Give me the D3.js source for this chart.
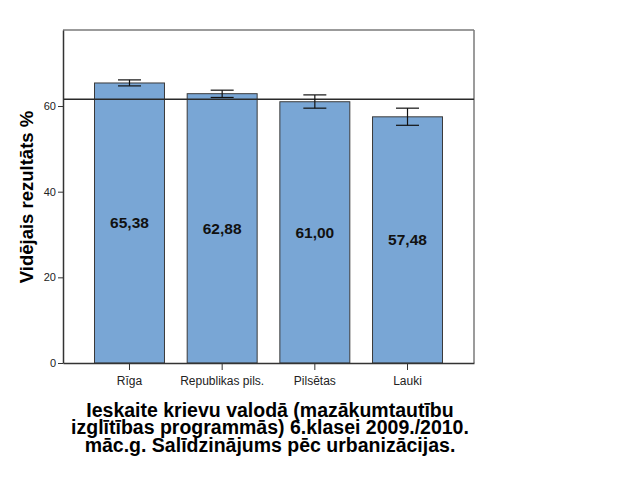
<!DOCTYPE html>
<html>
<head>
<meta charset="utf-8">
<script src="https://cdn.jsdelivr.net/npm/d3@7"></script>
<style>
body { margin: 0; background: #fff; }
text { font-family: "Liberation Sans", Arial, sans-serif; }
</style>
</head>
<body>
<script>
var w = 626, h = 501;
var margin = { top: 30, right: 152, bottom: 138, left: 63 };
var iw = w - margin.left - margin.right;
var ih = h - margin.top - margin.bottom;

var categories = ["Rīga", "Republikas pils.", "Pilsētas", "Lauki"];
var means = [65.38, 62.88, 61.00, 57.48];
var errLow = [64.7, 62.0, 59.5, 55.5];
var errHigh = [66.1, 63.7, 62.6, 59.5];
var labels = ["65,38", "62,88", "61,00", "57,48"];
var yTicks = [0, 20, 40, 60];
var refLine = 61.6;
var titleLines = ["Ieskaite krievu valodā (mazākumtautību",
    "izglītības programmās) 6.klasei 2009./2010.",
    "māc.g. Salīdzinājums pēc urbanizācijas."];

var svg = d3.select("body").append("svg")
    .attr("width", w)
    .attr("height", h);

var g = svg.append("g")
    .attr("transform", "translate(" + margin.left + "," + margin.top + ")");

var xScale = d3.scaleBand()
    .domain(categories)
    .range([0, iw])
    .paddingInner(0.245)
    .paddingOuter(0.34);

var yScale = d3.scaleLinear()
    .domain([0, 77.75])
    .range([ih, 0]);

// frame (top and right in lighter grey)
g.append("line").attr("x1", 0).attr("x2", iw).attr("y1", 0).attr("y2", 0)
    .attr("stroke", "#7a7a7a").attr("stroke-width", 1.5);
g.append("line").attr("x1", iw).attr("x2", iw).attr("y1", 0).attr("y2", ih)
    .attr("stroke", "#7a7a7a").attr("stroke-width", 1.5);

// bars
g.selectAll("rect.bar")
    .data(means)
    .enter()
    .append("rect")
    .attr("class", "bar")
    .attr("x", function (d, i) { return xScale(categories[i]); })
    .attr("y", function (d) { return yScale(d); })
    .attr("width", xScale.bandwidth())
    .attr("height", function (d) { return ih - yScale(d); })
    .attr("fill", "#79a6d5")
    .attr("stroke", "#3a3a3a")
    .attr("stroke-width", 1);

// reference line
g.append("line")
    .attr("x1", 0).attr("x2", iw)
    .attr("y1", yScale(refLine)).attr("y2", yScale(refLine))
    .attr("stroke", "#2a2a2a").attr("stroke-width", 1.5);

// error bars
var capW = 23;
var eb = g.selectAll("g.err")
    .data(means)
    .enter()
    .append("g")
    .attr("class", "err")
    .attr("stroke", "#111")
    .attr("stroke-width", 1.2);
eb.append("line")
    .attr("x1", function (d, i) { return xScale(categories[i]) + xScale.bandwidth() / 2; })
    .attr("x2", function (d, i) { return xScale(categories[i]) + xScale.bandwidth() / 2; })
    .attr("y1", function (d, i) { return yScale(errLow[i]); })
    .attr("y2", function (d, i) { return yScale(errHigh[i]); });
eb.append("line")
    .attr("x1", function (d, i) { return xScale(categories[i]) + xScale.bandwidth() / 2 - capW / 2; })
    .attr("x2", function (d, i) { return xScale(categories[i]) + xScale.bandwidth() / 2 + capW / 2; })
    .attr("y1", function (d, i) { return yScale(errLow[i]); })
    .attr("y2", function (d, i) { return yScale(errLow[i]); });
eb.append("line")
    .attr("x1", function (d, i) { return xScale(categories[i]) + xScale.bandwidth() / 2 - capW / 2; })
    .attr("x2", function (d, i) { return xScale(categories[i]) + xScale.bandwidth() / 2 + capW / 2; })
    .attr("y1", function (d, i) { return yScale(errHigh[i]); })
    .attr("y2", function (d, i) { return yScale(errHigh[i]); });

// value labels in the middle of the bars
g.selectAll("text.val")
    .data(means)
    .enter()
    .append("text")
    .attr("class", "val")
    .attr("x", function (d, i) { return xScale(categories[i]) + xScale.bandwidth() / 2; })
    .attr("y", function (d) { return yScale(d / 2); })
    .attr("dy", "0.35em")
    .attr("text-anchor", "middle")
    .attr("font-size", 15.5)
    .attr("font-weight", "bold")
    .attr("fill", "#111")
    .text(function (d, i) { return labels[i]; });

// axes
var yAxis = d3.axisLeft(yScale).tickValues(yTicks).tickSize(5).tickSizeOuter(0).tickPadding(2);
var ya = g.append("g").call(yAxis);
ya.select(".domain").attr("stroke", "#333").attr("stroke-width", 1.5);
ya.selectAll(".tick line").attr("stroke", "#333");
ya.selectAll("text").attr("font-size", 11).attr("fill", "#222")
    .attr("font-family", "Liberation Sans, Arial, sans-serif");

var xAxis = d3.axisBottom(xScale).tickSize(7).tickSizeOuter(0).tickPadding(6);
var xa = g.append("g").attr("transform", "translate(0," + ih + ")").call(xAxis);
xa.select(".domain").attr("stroke", "#333").attr("stroke-width", 1.5);
xa.selectAll(".tick line").attr("stroke", "#333");
xa.selectAll("text").attr("font-size", 12).attr("fill", "#222")
    .attr("font-family", "Liberation Sans, Arial, sans-serif");

// y axis title
svg.append("text")
    .attr("transform", "translate(33,197) rotate(-90)")
    .attr("text-anchor", "middle")
    .attr("font-size", 18.5)
    .attr("font-weight", "bold")
    .attr("fill", "#000")
    .text("Vidējais rezultāts %");

// chart title under the axis
svg.append("g").selectAll("text")
    .data(titleLines)
    .enter()
    .append("text")
    .attr("x", 270)
    .attr("y", function (d, i) { return 416.5 + i * 17.5; })
    .attr("text-anchor", "middle")
    .attr("font-size", 19.5)
    .attr("font-weight", "bold")
    .attr("fill", "#000")
    .text(function (d) { return d; });
</script>
</body>
</html>
